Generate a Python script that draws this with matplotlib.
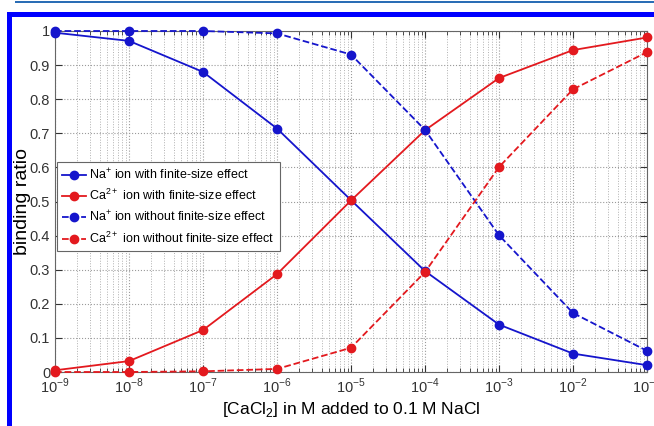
import matplotlib
matplotlib.use("Agg")
import matplotlib.pyplot as plt
from matplotlib.patches import Rectangle
from matplotlib.ticker import LogLocator, NullFormatter, FixedLocator

plt.rcParams['font.family'] = ['Liberation Sans', 'DejaVu Sans']
plt.rcParams['mathtext.fontset'] = 'custom'
plt.rcParams['mathtext.rm'] = 'Liberation Sans'

conc = [1e-9, 1e-8, 1e-7, 1e-6, 1e-5, 1e-4, 1e-3, 1e-2, 1e-1]
na_finite = [0.995, 0.971, 0.88, 0.714, 0.504, 0.296, 0.139, 0.054, 0.02]
ca_finite = [0.005, 0.032, 0.123, 0.287, 0.503, 0.709, 0.862, 0.944, 0.981]
na_nofinite = [1.0, 1.0, 1.0, 0.993, 0.931, 0.71, 0.401, 0.173, 0.062]
ca_nofinite = [0.0, 0.0, 0.002, 0.009, 0.071, 0.293, 0.601, 0.829, 0.938]
labels = ["Na$^{+}$ ion with finite-size effect",
          "Ca$^{2+}$ ion with finite-size effect",
          "Na$^{+}$ ion without finite-size effect",
          "Ca$^{2+}$ ion without finite-size effect"]
yticks = [0, 0.1, 0.2, 0.3, 0.4, 0.5, 0.6, 0.7, 0.8, 0.9, 1]
ytick_labels = ["0", "0.1", "0.2", "0.3", "0.4", "0.5", "0.6", "0.7", "0.8", "0.9", "1"]

blue = '#1515cc'
red = '#e3191e'

fig = plt.figure(figsize=(6.54, 4.26), dpi=100)
ax = fig.add_axes([55/654, 1-372/426, (647-55)/654, (372-31)/426])

kw = dict(marker='o', markersize=6, linewidth=1.3, clip_on=False, zorder=3)
ax.plot(conc, na_finite, '-', color=blue, label=labels[0], **kw)
ax.plot(conc, ca_finite, '-', color=red, label=labels[1], **kw)
ax.plot(conc, na_nofinite, '--', color=blue, label=labels[2], **kw)
ax.plot(conc, ca_nofinite, '--', color=red, label=labels[3], **kw)

ax.set_xscale('log')
ax.set_xlim(1e-9, 1e-1)
ax.set_ylim(0, 1)
ax.xaxis.set_major_locator(FixedLocator(conc))
ax.xaxis.set_minor_locator(LogLocator(base=10, subs=range(2, 10), numticks=100))
ax.xaxis.set_minor_formatter(NullFormatter())
ax.set_xticks(conc)
ax.set_xticklabels([r"$10^{%d}$" % e for e in range(-9, 0)])
ax.set_yticks(yticks)
ax.set_yticklabels(ytick_labels)

ax.grid(True, which='major', axis='both', linestyle=':', color='#9a9a9a', linewidth=0.8)
ax.grid(True, which='minor', axis='x', linestyle=':', color='#b0b0b0', linewidth=0.7)
ax.tick_params(which='both', direction='in', labelsize=10.5, colors='#333333', top=True, right=True)
ax.tick_params(which='major', length=5)
ax.tick_params(which='minor', length=3)
for s in ax.spines.values():
    s.set_color('#666666')
    s.set_linewidth(0.8)

ax.set_ylabel('binding ratio', fontsize=14)
ax.yaxis.set_label_coords(-0.041, 0.5)
ax.set_xlabel('[CaCl$_2$] in M added to 0.1 M NaCl', fontsize=12.5, labelpad=3)

leg = ax.legend(loc='upper left', bbox_to_anchor=(0.003, 0.616), borderaxespad=0, fontsize=9,
                handlelength=1.9, handletextpad=0.3, borderpad=0.4, labelspacing=0.5,
                fancybox=False, framealpha=1, edgecolor='#666666')
leg.get_frame().set_linewidth(0.8)

# blue frame decorations
fig.patches.append(Rectangle((15/654, 1-3/426), (654-15)/654, 2/426, transform=fig.transFigure,
                             facecolor='#2a6db5', edgecolor='none'))
fig.patches.append(Rectangle((7/654, 1-17/426), (654-7)/654, 5/426, transform=fig.transFigure,
                             facecolor='#0000ff', edgecolor='none'))
fig.patches.append(Rectangle((7/654, 0), 5/654, 1-12/426, transform=fig.transFigure,
                             facecolor='#0000ff', edgecolor='none'))

fig.savefig('out.png', dpi=100)
